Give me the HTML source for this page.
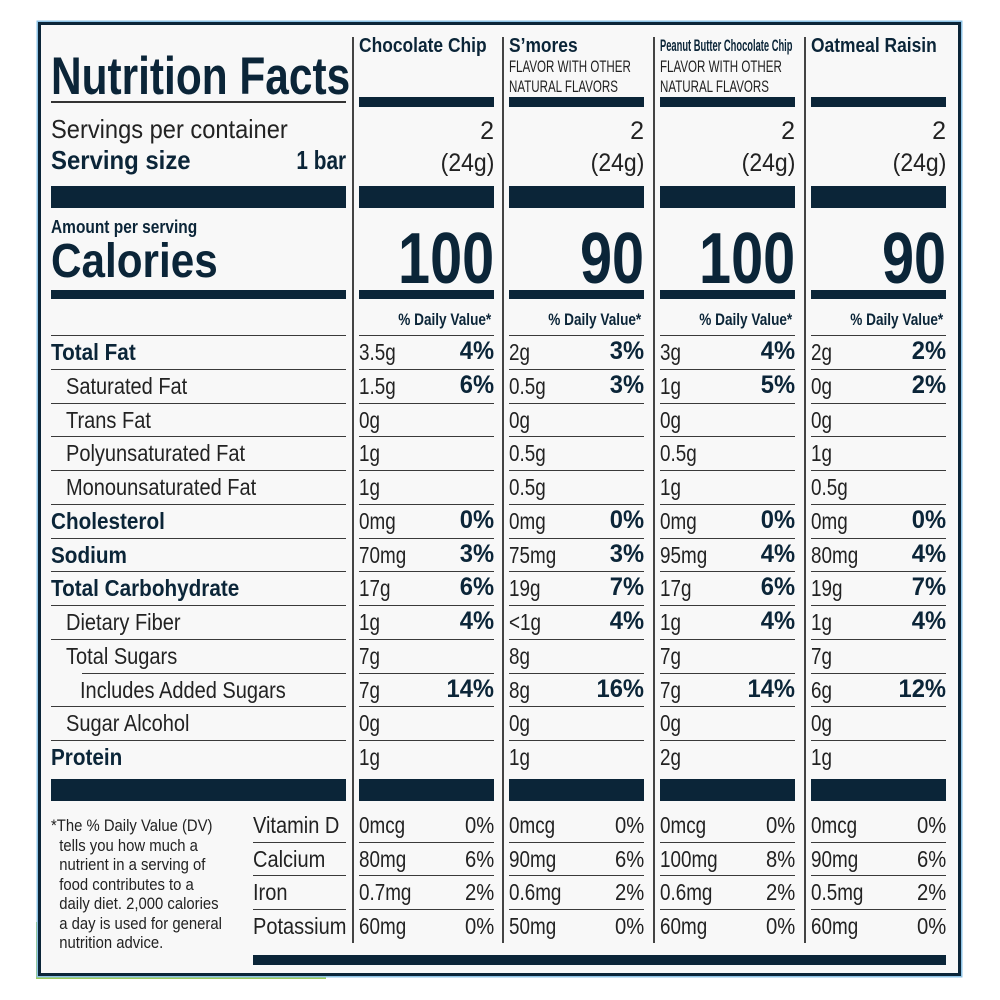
<!DOCTYPE html>
<html><head><meta charset="utf-8">
<style>
*{margin:0;padding:0;box-sizing:border-box}
body{width:1000px;height:1000px;background:#fff;position:relative;overflow:hidden;font-family:"Liberation Sans",sans-serif;color:#0b2538}
.box{position:absolute;left:38px;top:22px;width:923px;height:954px;background:#f8f8f8;border:3px solid #0b2538;box-shadow:0 0 0 1.5px #8ec3e6}
.g1{position:absolute;left:36px;top:922px;width:4px;height:56px;background:#9ccb5a}
.g2{position:absolute;left:36px;top:975px;width:290px;height:4px;background:#9ccb5a}
.t{position:absolute;white-space:nowrap;transform-origin:left top;line-height:1}
.r{transform-origin:right top}
.bar{position:absolute;background:#0b2538}
.vl{position:absolute;top:37px;height:906px;width:1.5px;background:#444}
.col{position:absolute;top:0;width:135px;height:1000px}
.row{position:absolute;left:0;width:100%;height:33.75px;border-top:1.5px solid #3a3a3a}
.a{position:absolute;left:0;top:5px;font-size:23px;line-height:1;transform:scaleX(.82);transform-origin:left top;color:#222;white-space:nowrap}
.p{position:absolute;right:0;top:3px;font-size:25px;line-height:1;font-weight:bold;transform:scaleX(.95);transform-origin:right top;color:#0b2538;white-space:nowrap}
.pv{font-weight:normal;color:#222;font-size:23px;top:5px;transform:scaleX(.88)}
.lb{position:absolute;top:5px;font-size:23px;line-height:1;transform:scaleX(.87);transform-origin:left top;color:#222;white-space:nowrap}
.lb.b{font-weight:bold;color:#0b2538;transform:scaleX(.9)}
.vr{position:absolute;left:0;width:100%;height:33.5px}
.vr.bl{border-bottom:1.5px solid #3a3a3a}
</style></head><body>
<div class="g1"></div><div class="g2"></div>
<div class="box"></div>

<div class="t" style="left:51px;top:50px;font-size:53px;font-weight:bold;transform:scaleX(.8)">Nutrition Facts</div>
<div class="bar" style="left:51px;top:101px;width:295px;height:1.5px;background:#333"></div>
<div class="t" style="left:51px;top:116px;font-size:26px;color:#222;transform:scaleX(.91)">Servings per container</div>
<div class="t" style="left:51px;top:147px;font-size:26px;font-weight:bold;transform:scaleX(.92)">Serving size</div>
<div class="t r" style="right:654px;top:147px;font-size:26px;font-weight:bold;transform:scaleX(.8)">1 bar</div>
<div class="bar" style="left:51px;top:186px;width:295px;height:22px"></div>
<div class="t" style="left:51px;top:218px;font-size:18px;font-weight:bold;transform:scaleX(.86)">Amount per serving</div>
<div class="t" style="left:51px;top:238px;font-size:48px;font-weight:bold;transform:scaleX(.88)">Calories</div>
<div class="bar" style="left:51px;top:290px;width:295px;height:9px"></div>

<div class="col" style="left:51px;width:295px">
<div class="row" style="top:335px"><span class="lb b" style="left:0">Total Fat</span></div>
<div class="row" style="top:368.75px"><span class="lb" style="left:15px">Saturated Fat</span></div>
<div class="row" style="top:402.5px"><span class="lb" style="left:15px">Trans Fat</span></div>
<div class="row" style="top:436.25px"><span class="lb" style="left:15px">Polyunsaturated Fat</span></div>
<div class="row" style="top:470px"><span class="lb" style="left:15px">Monounsaturated Fat</span></div>
<div class="row" style="top:503.75px"><span class="lb b" style="left:0">Cholesterol</span></div>
<div class="row" style="top:537.5px"><span class="lb b" style="left:0">Sodium</span></div>
<div class="row" style="top:571.25px"><span class="lb b" style="left:0">Total Carbohydrate</span></div>
<div class="row" style="top:605px"><span class="lb" style="left:15px">Dietary Fiber</span></div>
<div class="row" style="top:638.75px"><span class="lb" style="left:15px">Total Sugars</span></div>
<div class="row" style="top:672.5px;left:31px;width:264px"><span class="lb" style="left:-2px">Includes Added Sugars</span></div>
<div class="row" style="top:706.25px"><span class="lb" style="left:15px">Sugar Alcohol</span></div>
<div class="row" style="top:740px"><span class="lb b" style="left:0">Protein</span></div>
</div>
<div class="bar" style="left:51px;top:779px;width:295px;height:22px"></div>
<div class="t" style="left:51px;top:817px;font-size:16.5px;line-height:19.5px;color:#222;transform:scaleX(.9)">*The % Daily Value (DV)<br>&nbsp;&nbsp;tells you how much a<br>&nbsp;&nbsp;nutrient in a serving of<br>&nbsp;&nbsp;food contributes to a<br>&nbsp;&nbsp;daily diet. 2,000 calories<br>&nbsp;&nbsp;a day is used for general<br>&nbsp;&nbsp;nutrition advice.</div>
<div class="col" style="left:253px;width:93px">
<div class="vr bl" style="top:809px"><span class="lb">Vitamin D</span></div>
<div class="vr bl" style="top:842.5px"><span class="lb">Calcium</span></div>
<div class="vr bl" style="top:876px"><span class="lb">Iron</span></div>
<div class="vr" style="top:909.5px"><span class="lb">Potassium</span></div>
</div>
<div class="bar" style="left:253px;top:955px;width:693px;height:10px"></div>

<div class="vl" style="left:352px"></div>
<div class="vl" style="left:502px"></div>
<div class="vl" style="left:653px"></div>
<div class="vl" style="left:804px"></div>

<div class="t" style="left:359px;top:36px;font-size:20px;font-weight:bold;transform:scaleX(.87)">Chocolate Chip</div>
<div class="t" style="left:509px;top:36px;font-size:20px;font-weight:bold;transform:scaleX(.87)">S’mores</div>
<div class="t" style="left:509px;top:57px;font-size:17px;line-height:20px;color:#222;transform:scaleX(.68)">FLAVOR WITH OTHER<br>NATURAL FLAVORS</div>
<div class="t" style="left:660px;top:37px;font-size:17px;font-weight:bold;transform:scaleX(.55)">Peanut Butter Chocolate Chip</div>
<div class="t" style="left:660px;top:57px;font-size:17px;line-height:20px;color:#222;transform:scaleX(.68)">FLAVOR WITH OTHER<br>NATURAL FLAVORS</div>
<div class="t" style="left:811px;top:36px;font-size:20px;font-weight:bold;transform:scaleX(.87)">Oatmeal Raisin</div>

<div class="col" style="left:359px">
<div class="bar" style="left:0;top:97px;width:135px;height:10px"></div>
<div class="t r" style="right:0;top:119px;font-size:25px;color:#222">2</div>
<div class="t r" style="right:0;top:151px;font-size:25px;color:#222;transform:scaleX(.92)">(24g)</div>
<div class="bar" style="left:0;top:186px;width:135px;height:22px"></div>
<div class="t r" style="right:0;top:223px;font-size:72px;font-weight:bold;transform:scaleX(.8)">100</div>
<div class="bar" style="left:0;top:290px;width:135px;height:9px"></div>
<div class="t r" style="right:3px;top:311px;font-size:17px;font-weight:bold;transform:scaleX(.8)">% Daily Value*</div>
</div>
<div class="col" style="left:509px">
<div class="bar" style="left:0;top:97px;width:135px;height:10px"></div>
<div class="t r" style="right:0;top:119px;font-size:25px;color:#222">2</div>
<div class="t r" style="right:0;top:151px;font-size:25px;color:#222;transform:scaleX(.92)">(24g)</div>
<div class="bar" style="left:0;top:186px;width:135px;height:22px"></div>
<div class="t r" style="right:0;top:223px;font-size:72px;font-weight:bold;transform:scaleX(.8)">90</div>
<div class="bar" style="left:0;top:290px;width:135px;height:9px"></div>
<div class="t r" style="right:3px;top:311px;font-size:17px;font-weight:bold;transform:scaleX(.8)">% Daily Value*</div>
</div>
<div class="col" style="left:660px">
<div class="bar" style="left:0;top:97px;width:135px;height:10px"></div>
<div class="t r" style="right:0;top:119px;font-size:25px;color:#222">2</div>
<div class="t r" style="right:0;top:151px;font-size:25px;color:#222;transform:scaleX(.92)">(24g)</div>
<div class="bar" style="left:0;top:186px;width:135px;height:22px"></div>
<div class="t r" style="right:0;top:223px;font-size:72px;font-weight:bold;transform:scaleX(.8)">100</div>
<div class="bar" style="left:0;top:290px;width:135px;height:9px"></div>
<div class="t r" style="right:3px;top:311px;font-size:17px;font-weight:bold;transform:scaleX(.8)">% Daily Value*</div>
</div>
<div class="col" style="left:811px">
<div class="bar" style="left:0;top:97px;width:135px;height:10px"></div>
<div class="t r" style="right:0;top:119px;font-size:25px;color:#222">2</div>
<div class="t r" style="right:0;top:151px;font-size:25px;color:#222;transform:scaleX(.92)">(24g)</div>
<div class="bar" style="left:0;top:186px;width:135px;height:22px"></div>
<div class="t r" style="right:0;top:223px;font-size:72px;font-weight:bold;transform:scaleX(.8)">90</div>
<div class="bar" style="left:0;top:290px;width:135px;height:9px"></div>
<div class="t r" style="right:3px;top:311px;font-size:17px;font-weight:bold;transform:scaleX(.8)">% Daily Value*</div>
</div>

<div class="col" style="left:359px">
<div class="row" style="top:335px"><span class="a">3.5g</span><span class="p">4%</span></div>
<div class="row" style="top:368.75px"><span class="a">1.5g</span><span class="p">6%</span></div>
<div class="row" style="top:402.5px"><span class="a">0g</span></div>
<div class="row" style="top:436.25px"><span class="a">1g</span></div>
<div class="row" style="top:470px"><span class="a">1g</span></div>
<div class="row" style="top:503.75px"><span class="a">0mg</span><span class="p">0%</span></div>
<div class="row" style="top:537.5px"><span class="a">70mg</span><span class="p">3%</span></div>
<div class="row" style="top:571.25px"><span class="a">17g</span><span class="p">6%</span></div>
<div class="row" style="top:605px"><span class="a">1g</span><span class="p">4%</span></div>
<div class="row" style="top:638.75px"><span class="a">7g</span></div>
<div class="row" style="top:672.5px"><span class="a">7g</span><span class="p">14%</span></div>
<div class="row" style="top:706.25px"><span class="a">0g</span></div>
<div class="row" style="top:740px"><span class="a">1g</span></div>
<div class="bar" style="left:0;top:779px;width:135px;height:22px"></div>
<div class="vr bl" style="top:809px"><span class="a">0mcg</span><span class="p pv">0%</span></div>
<div class="vr bl" style="top:842.5px"><span class="a">80mg</span><span class="p pv">6%</span></div>
<div class="vr bl" style="top:876px"><span class="a">0.7mg</span><span class="p pv">2%</span></div>
<div class="vr" style="top:909.5px"><span class="a">60mg</span><span class="p pv">0%</span></div>
</div>

<div class="col" style="left:509px">
<div class="row" style="top:335px"><span class="a">2g</span><span class="p">3%</span></div>
<div class="row" style="top:368.75px"><span class="a">0.5g</span><span class="p">3%</span></div>
<div class="row" style="top:402.5px"><span class="a">0g</span></div>
<div class="row" style="top:436.25px"><span class="a">0.5g</span></div>
<div class="row" style="top:470px"><span class="a">0.5g</span></div>
<div class="row" style="top:503.75px"><span class="a">0mg</span><span class="p">0%</span></div>
<div class="row" style="top:537.5px"><span class="a">75mg</span><span class="p">3%</span></div>
<div class="row" style="top:571.25px"><span class="a">19g</span><span class="p">7%</span></div>
<div class="row" style="top:605px"><span class="a">&lt;1g</span><span class="p">4%</span></div>
<div class="row" style="top:638.75px"><span class="a">8g</span></div>
<div class="row" style="top:672.5px"><span class="a">8g</span><span class="p">16%</span></div>
<div class="row" style="top:706.25px"><span class="a">0g</span></div>
<div class="row" style="top:740px"><span class="a">1g</span></div>
<div class="bar" style="left:0;top:779px;width:135px;height:22px"></div>
<div class="vr bl" style="top:809px"><span class="a">0mcg</span><span class="p pv">0%</span></div>
<div class="vr bl" style="top:842.5px"><span class="a">90mg</span><span class="p pv">6%</span></div>
<div class="vr bl" style="top:876px"><span class="a">0.6mg</span><span class="p pv">2%</span></div>
<div class="vr" style="top:909.5px"><span class="a">50mg</span><span class="p pv">0%</span></div>
</div>

<div class="col" style="left:660px">
<div class="row" style="top:335px"><span class="a">3g</span><span class="p">4%</span></div>
<div class="row" style="top:368.75px"><span class="a">1g</span><span class="p">5%</span></div>
<div class="row" style="top:402.5px"><span class="a">0g</span></div>
<div class="row" style="top:436.25px"><span class="a">0.5g</span></div>
<div class="row" style="top:470px"><span class="a">1g</span></div>
<div class="row" style="top:503.75px"><span class="a">0mg</span><span class="p">0%</span></div>
<div class="row" style="top:537.5px"><span class="a">95mg</span><span class="p">4%</span></div>
<div class="row" style="top:571.25px"><span class="a">17g</span><span class="p">6%</span></div>
<div class="row" style="top:605px"><span class="a">1g</span><span class="p">4%</span></div>
<div class="row" style="top:638.75px"><span class="a">7g</span></div>
<div class="row" style="top:672.5px"><span class="a">7g</span><span class="p">14%</span></div>
<div class="row" style="top:706.25px"><span class="a">0g</span></div>
<div class="row" style="top:740px"><span class="a">2g</span></div>
<div class="bar" style="left:0;top:779px;width:135px;height:22px"></div>
<div class="vr bl" style="top:809px"><span class="a">0mcg</span><span class="p pv">0%</span></div>
<div class="vr bl" style="top:842.5px"><span class="a">100mg</span><span class="p pv">8%</span></div>
<div class="vr bl" style="top:876px"><span class="a">0.6mg</span><span class="p pv">2%</span></div>
<div class="vr" style="top:909.5px"><span class="a">60mg</span><span class="p pv">0%</span></div>
</div>

<div class="col" style="left:811px">
<div class="row" style="top:335px"><span class="a">2g</span><span class="p">2%</span></div>
<div class="row" style="top:368.75px"><span class="a">0g</span><span class="p">2%</span></div>
<div class="row" style="top:402.5px"><span class="a">0g</span></div>
<div class="row" style="top:436.25px"><span class="a">1g</span></div>
<div class="row" style="top:470px"><span class="a">0.5g</span></div>
<div class="row" style="top:503.75px"><span class="a">0mg</span><span class="p">0%</span></div>
<div class="row" style="top:537.5px"><span class="a">80mg</span><span class="p">4%</span></div>
<div class="row" style="top:571.25px"><span class="a">19g</span><span class="p">7%</span></div>
<div class="row" style="top:605px"><span class="a">1g</span><span class="p">4%</span></div>
<div class="row" style="top:638.75px"><span class="a">7g</span></div>
<div class="row" style="top:672.5px"><span class="a">6g</span><span class="p">12%</span></div>
<div class="row" style="top:706.25px"><span class="a">0g</span></div>
<div class="row" style="top:740px"><span class="a">1g</span></div>
<div class="bar" style="left:0;top:779px;width:135px;height:22px"></div>
<div class="vr bl" style="top:809px"><span class="a">0mcg</span><span class="p pv">0%</span></div>
<div class="vr bl" style="top:842.5px"><span class="a">90mg</span><span class="p pv">6%</span></div>
<div class="vr bl" style="top:876px"><span class="a">0.5mg</span><span class="p pv">2%</span></div>
<div class="vr" style="top:909.5px"><span class="a">60mg</span><span class="p pv">0%</span></div>
</div>
</body></html>
